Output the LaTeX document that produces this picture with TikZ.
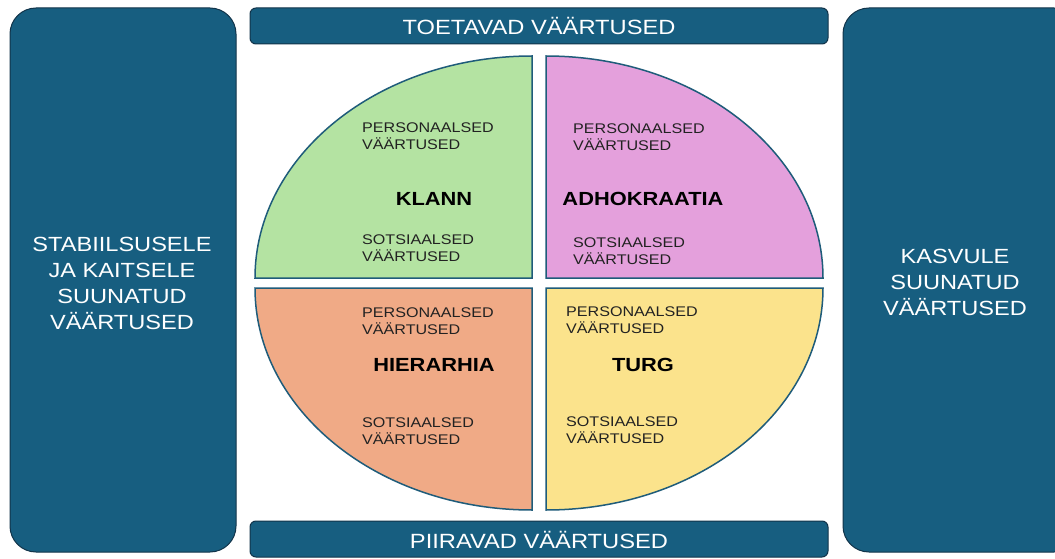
\documentclass[tikz,border=0pt]{standalone}
\usepackage{fontspec}
\setmainfont{Liberation Sans}[FakeStretch=1.15]
\begin{document}
\definecolor{panel}{HTML}{175E80}
\definecolor{panelline}{HTML}{12344A}
\definecolor{quadline}{HTML}{1F5C7A}
\definecolor{clan}{HTML}{B4E3A2}
\definecolor{adhoc}{HTML}{E4A0DC}
\definecolor{hier}{HTML}{F0AA86}
\definecolor{market}{HTML}{FBE38C}
\definecolor{smalltext}{HTML}{222222}
\begin{tikzpicture}[x=1pt,y=1pt,
  sidebox/.style={draw=panelline,line width=1pt,fill=panel,rounded corners=26pt},
  barbox/.style={draw=panelline,line width=1pt,fill=panel,rounded corners=6pt},
  quad/.style={draw=quadline,line width=1.5pt},
  sidetext/.style={text=white,align=center,font=\fontsize{20.5}{26}\selectfont},
  bartext/.style={text=white,font=\fontsize{20.6}{24}\selectfont},
  valtext/.style={text=smalltext,align=left,anchor=west,inner sep=0pt,font=\fontsize{14}{17}\selectfont},
  typetext/.style={text=black,font=\bfseries\fontsize{19}{22}\selectfont}]
\useasboundingbox (0,0) rectangle (1055,558);
\fill[white] (0,0) rectangle (1055,558);

% side panels
\draw[sidebox] (10,6) rectangle (236,550);
\draw[sidebox] (843,6) rectangle (1080,550);
\node[sidetext] (stab) at (122,275) {STABIILSUSELE\\JA KAITSELE\\SUUNATUD\\VÄÄRTUSED};
\node[sidetext] (grow) at (955,276) {KASVULE\\SUUNATUD\\VÄÄRTUSED};

% top and bottom bars
\draw[barbox] (250,514) rectangle (828,550);
\node[bartext] (supp) at (539,532) {TOETAVAD VÄÄRTUSED};
\draw[barbox] (250,1) rectangle (828,37);
\node[bartext] (limit) at (539,18) {PIIRAVAD VÄÄRTUSED};

% four quadrants of the ellipse
\draw[quad,fill=clan] (532,280) -- (255,280) arc[start angle=180,end angle=90,x radius=277,y radius=222] -- cycle;
\draw[quad,fill=adhoc] (546,280) -- (546,502) arc[start angle=90,end angle=0,x radius=277,y radius=222] -- cycle;
\draw[quad,fill=hier] (532,270) -- (255,270) arc[start angle=180,end angle=270,x radius=277,y radius=222] -- cycle;
\draw[quad,fill=market] (546,270) -- (823,270) arc[start angle=0,end angle=-90,x radius=277,y radius=222] -- cycle;

% clan
\node[valtext] (c1) at (362,421.5) {PERSONAALSED\\VÄÄRTUSED};
\node[typetext] (clann) at (434,359) {KLANN};
\node[valtext] (c2) at (362,309.5) {SOTSIAALSED\\VÄÄRTUSED};
% adhocracy
\node[valtext] (a1) at (573,420.5) {PERSONAALSED\\VÄÄRTUSED};
\node[typetext] (adho) at (643,359) {ADHOKRAATIA};
\node[valtext] (a2) at (573,306.5) {SOTSIAALSED\\VÄÄRTUSED};
% hierarchy
\node[valtext] (h1) at (362,236.5) {PERSONAALSED\\VÄÄRTUSED};
\node[typetext] (hiera) at (434,193) {HIERARHIA};
\node[valtext] (h2) at (362,126.5) {SOTSIAALSED\\VÄÄRTUSED};
% market
\node[valtext] (m1) at (566,237.5) {PERSONAALSED\\VÄÄRTUSED};
\node[typetext] (turg) at (643,193) {TURG};
\node[valtext] (m2) at (566,127.5) {SOTSIAALSED\\VÄÄRTUSED};
\end{tikzpicture}
\end{document}
